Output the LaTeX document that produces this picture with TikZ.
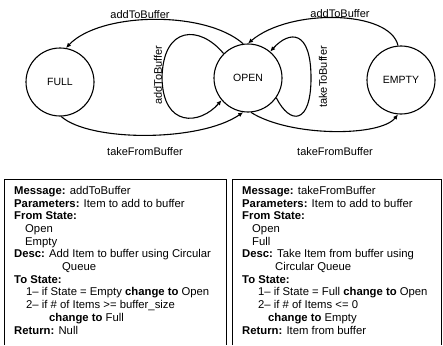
\documentclass[tikz,border=0pt]{standalone}
\usepackage{fontspec}
\setmainfont{Liberation Sans}
\usetikzlibrary{arrows.meta}
\begin{document}
\begin{tikzpicture}[x=1pt,y=-1pt,
  state/.style={circle, draw, line width=1.1pt, minimum size=68pt, inner sep=0pt, font=\fontsize{10.5}{12}\selectfont},
  edge/.style={line width=1.1pt, -{Latex[length=5pt,width=4.5pt]}},
  elabel/.style={font=\fontsize{11}{13}\selectfont, inner sep=0pt},
  boxtext/.style={anchor=north west, inner sep=0pt, align=left, font=\fontsize{11.3}{12.7}\selectfont},
  frame/.style={line width=1pt}]
\useasboundingbox (0,0) rectangle (443,345);
\node[state] (full) at (60,82) {FULL};
\node[state] (open) at (248,78) {OPEN};
\node[state] (empty) at (401,80) {EMPTY};
% top arcs
\draw[edge] (open.98) .. controls (205,10) and (100,12) .. (full.80);
\draw[edge] (empty.95) .. controls (390,10) and (290,8) .. (open.90);
% bottom arcs
\draw[edge] (full.-88) .. controls (90,142) and (200,142) .. (open.-98);
\draw[edge] (open.-85) .. controls (290,137) and (380,137) .. (empty.-95);
% self loops
\draw[edge] (open.135) .. controls (200,25) and (163,25) .. (162,78) .. controls (163,128) and (200,125) .. (open.-140);
\draw[edge] (open.-35) .. controls (290,125) and (311,125) .. (311,78) .. controls (311,30) and (290,30) .. (open.50);
% edge labels
\node[elabel] (la1) at (140,15) {addToBuffer};
\node[elabel] (la2) at (340,14) {addToBuffer};
\node[elabel] (lt1) at (145,152) {takeFromBuffer};
\node[elabel] (lt2) at (335,152) {takeFromBuffer};
\node[elabel, rotate=90] (la3) at (158,75) {addToBuffer};
\node[elabel, rotate=90] (lt3) at (323,77) {takeToBuffer};
% boxes
\draw[frame] (4,345) -- (4,179) -- (226,179) -- (226,345);
\draw[frame] (232,345) -- (232,179) -- (441,179) -- (441,345);
\node[boxtext] (txtL) at (14,186) {\textbf{Message:} addToBuffer\\
\textbf{Parameters:} Item to add to buffer\\
\textbf{From State:}\\
\hspace*{11pt}Open\\
\hspace*{11pt}Empty\\
\textbf{Desc:} Add Item to buffer using Circular\\
\hspace*{48pt}Queue\\
\textbf{To State:}\\
\hspace*{12pt}1-- if State = Empty \textbf{change to} Open\\
\hspace*{12pt}2-- if \# of Items >= buffer\_size\\
\hspace*{35pt}\textbf{change to} Full\\
\textbf{Return:} Null};
\node[boxtext] (txtR) at (242,186) {\textbf{Message:} takeFromBuffer\\
\textbf{Parameters:} Item to add to buffer\\
\textbf{From State:}\\
\hspace*{10pt}Open\\
\hspace*{10pt}Full\\
\textbf{Desc:} Take Item from buffer using\\
\hspace*{33pt}Circular Queue\\
\textbf{To State:}\\
\hspace*{16pt}1-- if State = Full \textbf{change to} Open\\
\hspace*{16pt}2-- if \# of Items <= 0\\
\hspace*{26pt}\textbf{change to} Empty\\
\textbf{Return:} Item from buffer};
\end{tikzpicture}
\end{document}
